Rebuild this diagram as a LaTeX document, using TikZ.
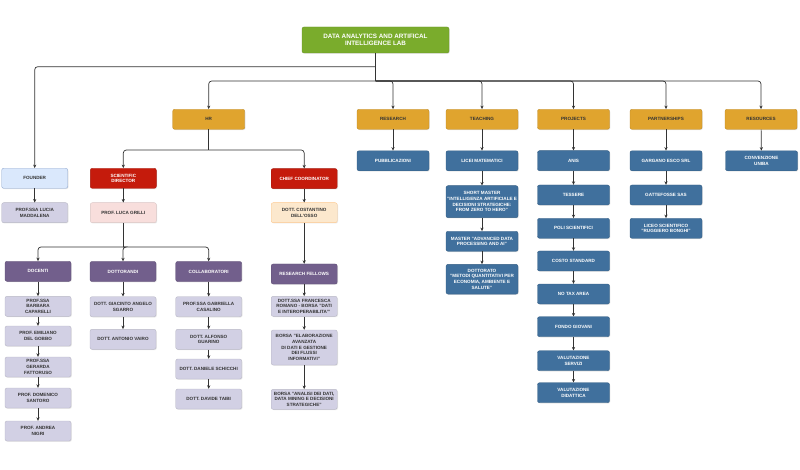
\documentclass[tikz,border=0pt]{standalone}
\usepackage{fontspec}
\setmainfont{Liberation Sans}
\usetikzlibrary{arrows.meta, shadows}
\definecolor{labgreen}{RGB}{122,172,44}
\definecolor{areaorange}{RGB}{224,164,46}
\definecolor{unitblue}{RGB}{64,112,157}
\definecolor{rolered}{RGB}{197,27,12}
\definecolor{grouppurple}{RGB}{114,95,140}
\definecolor{memberfill}{RGB}{210,208,228}
\definecolor{founderfill}{RGB}{218,232,252}
\definecolor{founderline}{RGB}{140,165,205}
\definecolor{pinkfill}{RGB}{248,222,220}
\definecolor{peachfill}{RGB}{252,232,205}
\definecolor{linkgray}{RGB}{51,51,51}
\tikzset{
	box/.style={rectangle, rounded corners=2pt, draw, align=center, inner sep=0.5pt,
		font=\bfseries\fontsize{4.6}{5.6}\selectfont, minimum height=20pt,
		drop shadow={opacity=0.18, shadow xshift=0.8pt, shadow yshift=-0.8pt}}, % common look of every box
	lab/.style={box, fill=labgreen, draw=labgreen!85!black, text=white, minimum width=147pt, minimum height=26pt, font=\bfseries\fontsize{6.3}{7.6}\selectfont},
	area/.style={box, fill=areaorange, draw=areaorange!85!black, text=linkgray, minimum width=72pt},
	unit/.style={box, fill=unitblue, draw=unitblue!85!black, text=white, minimum width=72pt},
	role/.style={box, fill=rolered, draw=rolered!85!black, text=white, minimum width=66pt},
	group/.style={box, fill=grouppurple, draw=grouppurple!85!black, text=white, minimum width=66pt},
	member/.style={box, fill=memberfill, draw=memberfill!70!gray, text=linkgray, minimum width=66pt},
	link/.style={draw=linkgray, line width=0.7pt, rounded corners=3pt, -{Stealth[length=3.5pt, width=3.2pt]}}, % arrows between boxes
	bus/.style={draw=linkgray, line width=0.7pt, rounded corners=3pt},
}
\begin{document}
\begin{tikzpicture}[x=1pt, y=-1pt]
	\useasboundingbox (0,0) rectangle (800,470);
	% top
	\node[lab] (dail) at (375.5,40) {DATA ANALYTICS AND ARTIFICAL\\INTELLIGENCE LAB};
	\coordinate (busF) at (375.5,66.7);
	\coordinate (busA) at (375.5,81);
	% areas
	\node[area] (hr) at (208.7,119.3) {HR};
	\node[area] (research) at (393,119.3) {RESEARCH};
	\node[area] (teaching) at (482,119.3) {TEACHING};
	\node[area] (projects) at (573.5,119.3) {PROJECTS};
	\node[area] (partner) at (666,119.3) {PARTNERSHIPS};
	\node[area] (resources) at (761,119.3) {RESOURCES};
	% founder
	\node[box, fill=founderfill, draw=founderline, text=linkgray, minimum width=66pt] (founder) at (34.7,178.3) {FOUNDER};
	\node[member] (maddalena) at (34.7,212.7) {PROF.SSA LUCIA\\MADDALENA};
	% hr
	\coordinate (hrbus) at (208.7,150);
	\node[role] (scidir) at (123.3,178.3) {SCIENTIFIC\\DIRECTOR};
	\node[box, fill=pinkfill, draw=pinkfill!75!gray, text=linkgray, minimum width=66pt] (grilli) at (123.3,212.7) {PROF. LUCA GRILLI};
	\node[role] (chief) at (304.2,178.6) {CHIEF COORDINATOR};
	\node[box, fill=peachfill, draw=peachfill!70!orange, text=linkgray, minimum width=66pt] (dellosso) at (304.2,212.7) {DOTT. COSTANTINO\\DELL'OSSO};
	\coordinate (grbus) at (123.3,247);
	\node[group] (docenti) at (38,271.3) {DOCENTI};
	\node[member] (caparelli) at (38,306.3) {PROF.SSA\\BARBARA\\CAPARELLI};
	\node[member] (delgobbo) at (38,336) {PROF. EMILIANO\\DEL GOBBO};
	\node[member] (fattoruso) at (38,367) {PROF.SSA\\GERARDA\\FATTORUSO};
	\node[member] (santoro) at (38,398) {PROF. DOMENICO\\SANTORO};
	\node[member] (nigri) at (38,431) {PROF. ANDREA\\NIGRI};
	\node[group] (dottorandi) at (123,271.5) {DOTTORANDI};
	\node[member] (sgarro) at (123,306.7) {DOTT. GIACINTO ANGELO\\SGARRO};
	\node[member] (vairo) at (123,339.3) {DOTT. ANTONIO VAIRO};
	\node[group] (collab) at (208.7,271.5) {COLLABORATORI};
	\node[member] (casalino) at (208.7,306.7) {PROF.SSA GABRIELLA\\CASALINO};
	\node[member] (guarino) at (208.7,339.3) {DOTT. ALFONSO\\GUARINO};
	\node[member] (schicchi) at (208.7,369) {DOTT. DANIELE SCHICCHI};
	\node[member] (taibi) at (208.7,399) {DOTT. DAVIDE TAIBI};
	\node[group] (fellows) at (304.2,274) {RESEARCH FELLOWS};
	\node[member] (romano) at (304.2,306.3) {DOTT.SSA FRANCESCA\\ROMANO - BORSA "DATI\\E INTEROPERABILITA'"};
	\node[member, minimum height=35pt] (elaborazione) at (304.2,347.5) {BORSA "ELABORAZIONE\\AVANZATA\\DI DATI E GESTIONE\\DEI FLUSSI\\INFORMATIVI"};
	\node[member] (analisi) at (304.2,399.3) {BORSA "ANALISI DEI DATI,\\DATA MINING E DECISIONI\\STRATEGICHE"};
	% research, teaching
	\node[unit] (pubblicazioni) at (393,160.8) {PUBBLICAZIONI};
	\node[unit] (licei) at (482,160.8) {LICEI MATEMATICI};
	\node[unit, minimum height=32pt] (shortmaster) at (482,201.7) {SHORT MASTER\\"INTELLIGENZA ARTIFICIALE E\\DECISIONI STRATEGICHE:\\FROM ZERO TO HERO"};
	\node[unit] (master) at (482,241.3) {MASTER "ADVANCED DATA\\PROCESSING AND AI"};
	\node[unit, minimum height=29.7pt] (dottorato) at (482,279.2) {DOTTORATO\\"METODI QUANTITATIVI PER\\ECONOMIA, AMBIENTE E\\SALUTE"};
	% projects
	\node[unit] (anis) at (573.5,160.7) {ANIS};
	\node[unit] (tessere) at (573.5,195) {TESSERE};
	\node[unit] (poli) at (573.5,228.3) {POLI SCIENTIFICI};
	\node[unit] (costo) at (573.5,261) {COSTO STANDARD};
	\node[unit] (notax) at (573.5,294) {NO TAX AREA};
	\node[unit] (fondo) at (573.5,326.7) {FONDO GIOVANI};
	\node[unit] (servizi) at (573.5,360.7) {VALUTAZIONE\\SERVIZI};
	\node[unit] (didattica) at (573.5,392.7) {VALUTAZIONE\\DIDATTICA};
	% partnerships, resources
	\node[unit] (gargano) at (666,160.8) {GARGANO ESCO SRL};
	\node[unit] (gattefosse) at (666,195) {GATTEFOSSE SAS};
	\node[unit] (bonghi) at (666,228.3) {LICEO SCIENTIFICO\\"RUGGIERO BONGHI"};
	\node[unit] (uniba) at (761.5,160.8) {CONVENZIONE\\UNIBA};
	% links
	\draw[bus] (dail) -- (busA);
	\draw[link] (busF) -| (founder);
	\foreach \a in {hr, research, teaching, projects, partner, resources}
		\draw[link] (busA) -| (\a);
	\draw[bus] (hr) -- (hrbus);
	\draw[link] (hrbus) -| (scidir);
	\draw[link] (hrbus) -| (chief);
	\draw[bus] (grilli) -- (grbus);
	\foreach \g in {docenti, dottorandi, collab}
		\draw[link] (grbus) -| (\g);
	\foreach \u/\v in {founder/maddalena, scidir/grilli, chief/dellosso, dellosso/fellows,
		fellows/romano, romano/elaborazione, elaborazione/analisi,
		docenti/caparelli, caparelli/delgobbo, delgobbo/fattoruso, fattoruso/santoro, santoro/nigri,
		dottorandi/sgarro, sgarro/vairo,
		collab/casalino, casalino/guarino, guarino/schicchi, schicchi/taibi,
		research/pubblicazioni, teaching/licei, licei/shortmaster, shortmaster/master, master/dottorato,
		projects/anis, anis/tessere, tessere/poli, poli/costo, costo/notax, notax/fondo, fondo/servizi, servizi/didattica,
		partner/gargano, gargano/gattefosse, gattefosse/bonghi, resources/uniba}
		\draw[link] (\u) -- (\v);
\end{tikzpicture}
\end{document}
